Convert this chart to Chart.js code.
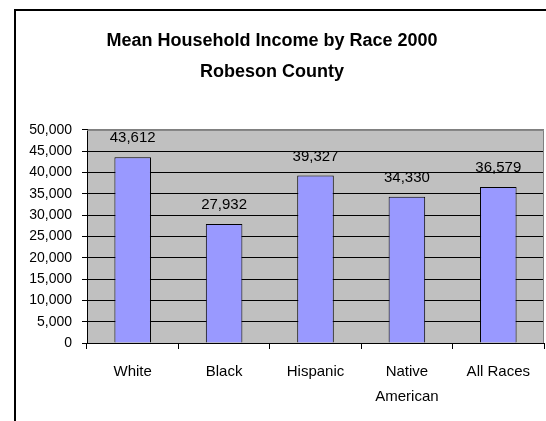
<!DOCTYPE html>
<html>
<head>
<meta charset="utf-8">
<script src="https://cdn.jsdelivr.net/npm/chart.js@4.4.1/dist/chart.umd.min.js"></script>
<style>
  html, body { margin: 0; padding: 0; background: #fff; }
  #wrap { width: 546px; height: 421px; position: relative; }
</style>
</head>
<body>
<div id="wrap"><canvas id="myChart" width="546" height="421"></canvas></div>
<script>
const categories = ['White', 'Black', 'Hispanic', ['Native', 'American'], 'All Races'];
const incomeValues = [43612, 27932, 39327, 34330, 36579];
const yTicks = [0, 5000, 10000, 15000, 20000, 25000, 30000, 35000, 40000, 45000, 50000];

const chart = document.querySelector('#myChart');

function fmt(v) {
    return v.toLocaleString('en-US');
}

// white page with the outer frame, grey plot background
const backdrop = {
    id: 'backdrop',
    beforeDraw(c) {
        const ctx = c.ctx;
        const a = c.chartArea;
        ctx.save();
        ctx.fillStyle = '#ffffff';
        ctx.fillRect(0, 0, c.width, c.height);
        ctx.fillStyle = '#c0c0c0';
        ctx.fillRect(a.left, a.top, a.right - a.left, a.bottom - a.top);
        ctx.strokeStyle = '#000';
        ctx.lineWidth = 2;
        ctx.beginPath();
        ctx.moveTo(15, c.height);
        ctx.lineTo(15, 10);
        ctx.lineTo(c.width, 10);
        ctx.stroke();
        ctx.restore();
    },
    afterDraw(c) {
        const ctx = c.ctx;
        const a = c.chartArea;
        ctx.save();
        ctx.strokeStyle = '#808080';
        ctx.lineWidth = 1;
        ctx.beginPath();
        ctx.moveTo(a.left, a.top + 0.5);
        ctx.lineTo(a.right - 0.5, a.top + 0.5);
        ctx.lineTo(a.right - 0.5, a.bottom);
        ctx.stroke();
        ctx.restore();
    }
};

// value printed above each bar
const barValues = {
    id: 'barValues',
    afterDatasetsDraw(c) {
        const ctx = c.ctx;
        const meta = c.getDatasetMeta(0);
        ctx.save();
        ctx.font = '15px Arial, "Liberation Sans", sans-serif';
        ctx.fillStyle = '#000';
        ctx.textAlign = 'center';
        ctx.textBaseline = 'middle';
        meta.data.forEach((bar, i) => {
            ctx.fillText(fmt(incomeValues[i]), bar.x, bar.y - 19);
        });
        ctx.restore();
    }
};

const myChart = new Chart(chart, {
    type: 'bar',
    data: {
        labels: categories,
        datasets: [{
            label: 'Mean Household Income',
            data: incomeValues,
            backgroundColor: '#9999ff',
            borderColor: '#000000',
            borderWidth: 1,
            categoryPercentage: 1,
            barPercentage: 0.4
        }]
    },
    options: {
        responsive: false,
        animation: false,
        events: [],
        layout: { padding: { left: 0, right: 2, top: 0, bottom: 0 } },
        plugins: {
            legend: { display: false },
            tooltip: { enabled: false },
            title: {
                display: true,
                text: ['Mean Household Income by Race 2000', 'Robeson County'],
                color: '#000',
                font: { family: 'Arial, "Liberation Sans", sans-serif', size: 18, weight: 'bold', lineHeight: 1.72 },
                padding: { top: 26, bottom: 42 }
            }
        },
        scales: {
            x: {
                offset: true,
                grid: {
                    offset: true,
                    drawOnChartArea: false,
                    drawTicks: true,
                    tickLength: 6,
                    tickColor: '#000'
                },
                border: { color: '#000', width: 1 },
                ticks: {
                    color: '#000',
                    padding: 10,
                    maxRotation: 0,
                    font: { family: 'Arial, "Liberation Sans", sans-serif', size: 15, lineHeight: 1.67 }
                },
                afterFit(scale) { scale.height = 78; }
            },
            y: {
                min: 0,
                max: 50000,
                afterBuildTicks(scale) {
                    scale.ticks = yTicks.map(v => ({ value: v }));
                },
                grid: {
                    color: ctx => (ctx.tick && ctx.tick.value === 50000) ? '#808080' : '#000',
                    tickColor: '#000',
                    tickLength: 5,
                    lineWidth: 1
                },
                border: { color: '#000', width: 1 },
                ticks: {
                    color: '#000',
                    padding: 10,
                    font: { family: 'Arial, "Liberation Sans", sans-serif', size: 14 },
                    callback: v => fmt(v)
                },
                afterFit(scale) { scale.width = 87; }
            }
        }
    },
    plugins: [backdrop, barValues]
});
</script>
</body>
</html>
